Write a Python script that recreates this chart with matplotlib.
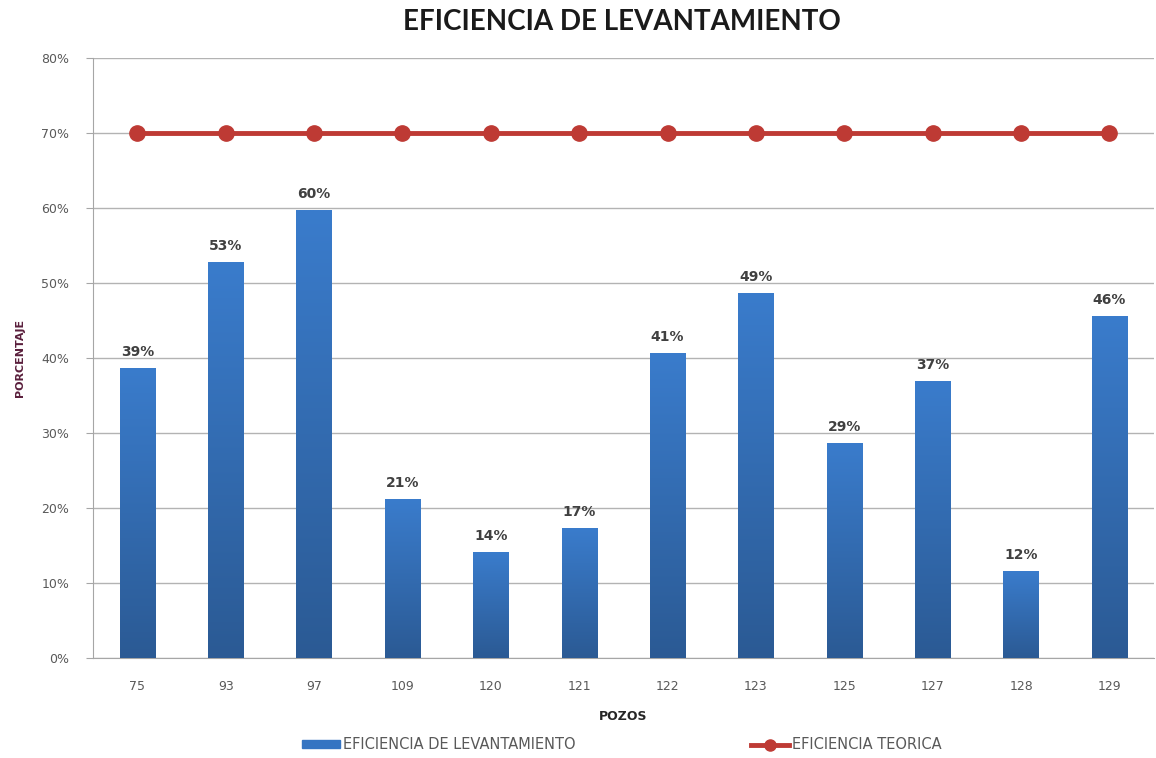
import numpy as np
import matplotlib
matplotlib.use('Agg')
import matplotlib.pyplot as plt
from matplotlib.lines import Line2D
from matplotlib.patches import Patch
from matplotlib.ticker import PercentFormatter

# data
pozos = ['75', '93', '97', '109', '120', '121', '122', '123', '125', '127', '128', '129']
eficiencia = [0.387, 0.528, 0.597, 0.212, 0.141, 0.173, 0.407, 0.487, 0.286, 0.369, 0.116, 0.456]
teorica = [0.70] * 12

fig = plt.figure(figsize=(11.56, 7.58), dpi=100)
ax = fig.add_axes([0.0805, 0.132, 0.9175, 0.7915])

x = np.arange(len(pozos))
bars = ax.bar(x, eficiencia, width=0.4, color='#3574C2', zorder=3)

# gradient fill on each bar (light at top, dark at bottom)
grad = np.linspace(0, 1, 256).reshape(-1, 1)
cmap = matplotlib.colors.LinearSegmentedColormap.from_list('g', ['#2B5A94', '#3A7CCC'])
for b in bars:
    bx, by = b.get_x(), b.get_y()
    w, h = b.get_width(), b.get_height()
    im = ax.imshow(grad, extent=[bx, bx + w, by, by + h], origin='lower',
                   aspect='auto', cmap=cmap, zorder=3.5)
    im.set_clip_path(b)

for xi, v in zip(x, eficiencia):
    ax.text(xi, v + 0.012, f'{round(v * 100):.0f}%', ha='center', va='bottom',
            fontsize=10, fontweight='bold', color='#404040', zorder=5)

ax.plot(x, teorica, color='#BE3A34', lw=3.5, marker='o', markersize=11, zorder=4)

ax.set_xlim(-0.5, len(pozos) - 0.5)
ax.set_ylim(0, 0.8)
ax.set_yticks(np.arange(0, 0.81, 0.1))
ax.yaxis.set_major_formatter(PercentFormatter(1.0, decimals=0))
ax.set_xticks(x)
ax.set_xticklabels(pozos)
ax.grid(axis='y', color='#B3B3B3', lw=1, zorder=0)
for s in ['top', 'right']:
    ax.spines[s].set_visible(False)
for s in ['left', 'bottom']:
    ax.spines[s].set_color('#A6A6A6')
ax.tick_params(axis='y', colors='#A6A6A6', labelcolor='#595959', labelsize=9, length=5, pad=12)
ax.tick_params(axis='x', length=0, labelcolor='#595959', labelsize=9, pad=16)

ax.set_xlabel('POZOS', fontsize=9, fontweight='bold', color='#262626', labelpad=12)
ax.set_ylabel('PORCENTAJE', fontsize=8, fontweight='bold', color='#5A1F3C', labelpad=12)

fig.suptitle('EFICIENCIA DE LEVANTAMIENTO', x=0.538, y=0.988, fontsize=20,
             fontweight='bold', family='Lato', color='#1A1A1A')

handles = [Patch(color='#3574C2'),
           Line2D([0], [0], color='#BE3A34', lw=3.5, marker='o', markersize=8)]
fig.legend(handles, ['EFICIENCIA DE LEVANTAMIENTO', 'EFICIENCIA TEORICA'],
           loc='lower center', bbox_to_anchor=(0.538, -0.01), ncol=2, frameon=False,
           fontsize=10.5, labelcolor='#595959', columnspacing=12, handlelength=2.6,
           handleheight=0.45, handletextpad=0.2)

fig.savefig('out.png', dpi=100)
